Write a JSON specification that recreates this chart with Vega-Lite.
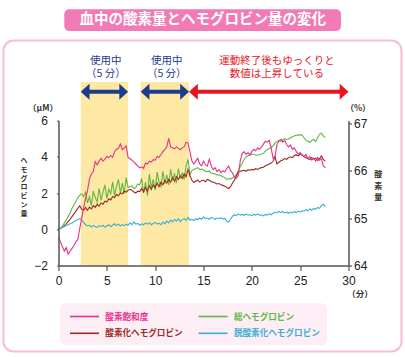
{
  "$schema": "https://vega.github.io/schema/vega-lite/v6.json",
  "width": 290,
  "height": 145,
  "autosize": {"type": "none"},
  "padding": {"left": 58.5, "top": 120.5, "right": 56.5, "bottom": 91.5},
  "background": "white",
  "config": {
    "font": "Noto Sans CJK JP",
    "view": {"stroke": null},
    "axis": {"grid": false}
  },
  "data": {"values": [{}]},
  "datasets": {
    "phases": [
      {"phase": "use", "start": 2.3, "end": 7.2},
      {"phase": "use", "start": 8.5, "end": 13.5},
      {"phase": "after", "start": 13.5, "end": 30}
    ],
    "hb": [
      {"t":0,"sat":64.6,"tot":0,"oxy":0,"deoxy":0},
      {"t":0.2,"sat":64.5,"tot":0.05,"oxy":0.05,"deoxy":0.05},
      {"t":0.4,"sat":64.4,"tot":0.15,"oxy":0.12,"deoxy":0.1},
      {"t":0.6,"sat":64.3,"tot":0.35,"oxy":0.2,"deoxy":0.15},
      {"t":0.8,"sat":64.38,"tot":0.5,"oxy":0.3,"deoxy":0.2},
      {"t":1.0,"sat":64.24,"tot":0.7,"oxy":0.42,"deoxy":0.25},
      {"t":1.2,"sat":64.3,"tot":0.9,"oxy":0.55,"deoxy":0.3},
      {"t":1.4,"sat":64.36,"tot":1.15,"oxy":0.7,"deoxy":0.35},
      {"t":1.6,"sat":64.42,"tot":1.35,"oxy":0.85,"deoxy":0.42},
      {"t":1.8,"sat":64.5,"tot":1.55,"oxy":1.0,"deoxy":0.48},
      {"t":2.0,"sat":64.55,"tot":1.75,"oxy":1.15,"deoxy":0.52},
      {"t":2.2,"sat":64.78,"tot":1.88,"oxy":1.3,"deoxy":0.6},
      {"t":2.4,"sat":65.0,"tot":1.95,"oxy":1.1,"deoxy":0.5},
      {"t":2.6,"sat":65.22,"tot":1.8,"oxy":1.05,"deoxy":0.38},
      {"t":2.8,"sat":65.42,"tot":2.05,"oxy":1.2,"deoxy":0.25},
      {"t":3.0,"sat":65.58,"tot":1.45,"oxy":1.05,"deoxy":0.18},
      {"t":3.2,"sat":65.82,"tot":1.8,"oxy":1.22,"deoxy":0.22},
      {"t":3.4,"sat":65.93,"tot":1.3,"oxy":1.12,"deoxy":0.12},
      {"t":3.6,"sat":65.98,"tot":2.1,"oxy":1.3,"deoxy":0.2},
      {"t":3.8,"sat":66.19,"tot":1.75,"oxy":1.2,"deoxy":0.15},
      {"t":4.0,"sat":66.12,"tot":1.5,"oxy":1.38,"deoxy":0.1},
      {"t":4.2,"sat":66.2,"tot":2.25,"oxy":1.28,"deoxy":0.2},
      {"t":4.4,"sat":66.26,"tot":1.6,"oxy":1.45,"deoxy":0.14},
      {"t":4.6,"sat":66.2,"tot":2.05,"oxy":1.38,"deoxy":0.22},
      {"t":4.8,"sat":66.24,"tot":2.45,"oxy":1.55,"deoxy":0.12},
      {"t":5.0,"sat":66.3,"tot":1.7,"oxy":1.5,"deoxy":0.18},
      {"t":5.2,"sat":66.27,"tot":2.2,"oxy":1.68,"deoxy":0.25},
      {"t":5.4,"sat":66.32,"tot":1.95,"oxy":1.62,"deoxy":0.15},
      {"t":5.6,"sat":66.28,"tot":2.6,"oxy":1.8,"deoxy":0.22},
      {"t":5.8,"sat":66.4,"tot":1.85,"oxy":1.75,"deoxy":0.3},
      {"t":6.0,"sat":66.45,"tot":2.35,"oxy":1.92,"deoxy":0.2},
      {"t":6.2,"sat":66.47,"tot":2.75,"oxy":1.85,"deoxy":0.28},
      {"t":6.4,"sat":66.56,"tot":2.0,"oxy":2.0,"deoxy":0.18},
      {"t":6.6,"sat":66.44,"tot":2.55,"oxy":1.95,"deoxy":0.26},
      {"t":6.8,"sat":66.48,"tot":1.95,"oxy":2.1,"deoxy":0.2},
      {"t":7.0,"sat":66.52,"tot":2.85,"oxy":2.05,"deoxy":0.28},
      {"t":7.2,"sat":66.28,"tot":2.3,"oxy":2.15,"deoxy":0.22},
      {"t":7.4,"sat":66.25,"tot":2.35,"oxy":2.2,"deoxy":0.35},
      {"t":7.6,"sat":66.22,"tot":2.4,"oxy":2.15,"deoxy":0.25},
      {"t":7.8,"sat":66.18,"tot":2.25,"oxy":2.05,"deoxy":0.4},
      {"t":8.0,"sat":66.14,"tot":2.3,"oxy":2.0,"deoxy":0.28},
      {"t":8.2,"sat":66.1,"tot":2.5,"oxy":2.1,"deoxy":0.32},
      {"t":8.4,"sat":66.06,"tot":2.45,"oxy":2.08,"deoxy":0.22},
      {"t":8.6,"sat":66.08,"tot":2.8,"oxy":2.25,"deoxy":0.3},
      {"t":8.8,"sat":66.05,"tot":2.0,"oxy":2.05,"deoxy":0.25},
      {"t":9.0,"sat":66.16,"tot":2.6,"oxy":2.3,"deoxy":0.35},
      {"t":9.2,"sat":66.14,"tot":1.85,"oxy":2.1,"deoxy":0.28},
      {"t":9.4,"sat":66.2,"tot":3.05,"oxy":2.4,"deoxy":0.36},
      {"t":9.6,"sat":66.18,"tot":2.3,"oxy":2.2,"deoxy":0.25},
      {"t":9.8,"sat":66.23,"tot":2.75,"oxy":2.45,"deoxy":0.32},
      {"t":10.0,"sat":66.22,"tot":2.15,"oxy":2.3,"deoxy":0.38},
      {"t":10.2,"sat":66.3,"tot":3.15,"oxy":2.55,"deoxy":0.28},
      {"t":10.4,"sat":66.28,"tot":2.6,"oxy":2.35,"deoxy":0.34},
      {"t":10.6,"sat":66.34,"tot":2.35,"oxy":2.6,"deoxy":0.25},
      {"t":10.8,"sat":66.4,"tot":3.2,"oxy":2.45,"deoxy":0.4},
      {"t":11.0,"sat":66.44,"tot":2.5,"oxy":2.7,"deoxy":0.3},
      {"t":11.2,"sat":66.5,"tot":3.0,"oxy":2.55,"deoxy":0.45},
      {"t":11.4,"sat":66.68,"tot":2.45,"oxy":2.75,"deoxy":0.35},
      {"t":11.6,"sat":66.5,"tot":3.3,"oxy":2.6,"deoxy":0.5},
      {"t":11.8,"sat":66.48,"tot":2.7,"oxy":2.85,"deoxy":0.4},
      {"t":12.0,"sat":66.46,"tot":3.05,"oxy":2.65,"deoxy":0.55},
      {"t":12.2,"sat":66.5,"tot":2.55,"oxy":2.9,"deoxy":0.45},
      {"t":12.4,"sat":66.47,"tot":3.35,"oxy":2.75,"deoxy":0.58},
      {"t":12.6,"sat":66.44,"tot":2.85,"oxy":2.95,"deoxy":0.42},
      {"t":12.8,"sat":66.48,"tot":3.1,"oxy":2.8,"deoxy":0.52},
      {"t":13.0,"sat":66.5,"tot":2.75,"oxy":3.05,"deoxy":0.6},
      {"t":13.2,"sat":66.6,"tot":3.5,"oxy":2.9,"deoxy":0.48},
      {"t":13.4,"sat":66.58,"tot":3.85,"oxy":3.3,"deoxy":0.65},
      {"t":13.6,"sat":66.4,"tot":3.0,"oxy":2.95,"deoxy":0.5},
      {"t":13.8,"sat":66.2,"tot":3.25,"oxy":2.7,"deoxy":0.55},
      {"t":14.0,"sat":66.14,"tot":3.3,"oxy":2.58,"deoxy":0.48},
      {"t":14.2,"sat":66.2,"tot":3.35,"oxy":2.65,"deoxy":0.58},
      {"t":14.4,"sat":66.26,"tot":3.4,"oxy":2.72,"deoxy":0.52},
      {"t":14.6,"sat":66.14,"tot":3.3,"oxy":2.6,"deoxy":0.62},
      {"t":14.8,"sat":66.1,"tot":3.32,"oxy":2.68,"deoxy":0.55},
      {"t":15.0,"sat":66.2,"tot":3.28,"oxy":2.7,"deoxy":0.68},
      {"t":15.2,"sat":66.12,"tot":3.2,"oxy":2.62,"deoxy":0.58},
      {"t":15.4,"sat":66.1,"tot":3.18,"oxy":2.75,"deoxy":0.62},
      {"t":15.6,"sat":66.24,"tot":3.22,"oxy":2.7,"deoxy":0.55},
      {"t":15.8,"sat":66.1,"tot":3.1,"oxy":2.62,"deoxy":0.65},
      {"t":16.0,"sat":66.02,"tot":3.08,"oxy":2.6,"deoxy":0.6},
      {"t":16.2,"sat":66.06,"tot":3.05,"oxy":2.55,"deoxy":0.55},
      {"t":16.4,"sat":65.98,"tot":3.0,"oxy":2.5,"deoxy":0.62},
      {"t":16.6,"sat":66.02,"tot":3.0,"oxy":2.52,"deoxy":0.58},
      {"t":16.8,"sat":65.96,"tot":2.95,"oxy":2.45,"deoxy":0.64},
      {"t":17.0,"sat":66.0,"tot":2.9,"oxy":2.42,"deoxy":0.56},
      {"t":17.2,"sat":65.97,"tot":2.85,"oxy":2.38,"deoxy":0.6},
      {"t":17.4,"sat":66.04,"tot":2.75,"oxy":2.3,"deoxy":0.45},
      {"t":17.6,"sat":66.1,"tot":2.8,"oxy":2.25,"deoxy":0.4},
      {"t":17.8,"sat":66.0,"tot":2.78,"oxy":2.35,"deoxy":0.55},
      {"t":18.0,"sat":65.95,"tot":2.82,"oxy":2.55,"deoxy":0.72},
      {"t":18.2,"sat":65.86,"tot":2.9,"oxy":2.7,"deoxy":0.8},
      {"t":18.4,"sat":65.84,"tot":3.0,"oxy":2.95,"deoxy":0.75},
      {"t":18.6,"sat":65.9,"tot":3.25,"oxy":3.15,"deoxy":0.85},
      {"t":18.8,"sat":66.2,"tot":3.45,"oxy":3.2,"deoxy":0.78},
      {"t":19.0,"sat":66.36,"tot":3.64,"oxy":3.22,"deoxy":0.82},
      {"t":19.2,"sat":66.4,"tot":3.85,"oxy":3.25,"deoxy":0.76},
      {"t":19.4,"sat":66.34,"tot":4.0,"oxy":3.2,"deoxy":0.85},
      {"t":19.6,"sat":66.38,"tot":4.05,"oxy":3.28,"deoxy":0.78},
      {"t":19.8,"sat":66.33,"tot":4.1,"oxy":3.26,"deoxy":0.8},
      {"t":20.0,"sat":66.4,"tot":4.15,"oxy":3.3,"deoxy":0.75},
      {"t":20.2,"sat":66.45,"tot":4.12,"oxy":3.28,"deoxy":0.82},
      {"t":20.4,"sat":66.42,"tot":4.1,"oxy":3.34,"deoxy":0.78},
      {"t":20.6,"sat":66.48,"tot":4.08,"oxy":3.3,"deoxy":0.84},
      {"t":20.8,"sat":66.45,"tot":4.12,"oxy":3.36,"deoxy":0.76},
      {"t":21.0,"sat":66.5,"tot":4.15,"oxy":3.4,"deoxy":0.8},
      {"t":21.2,"sat":66.56,"tot":4.2,"oxy":3.42,"deoxy":0.74},
      {"t":21.4,"sat":66.62,"tot":4.3,"oxy":3.5,"deoxy":0.82},
      {"t":21.6,"sat":66.6,"tot":4.4,"oxy":3.55,"deoxy":0.78},
      {"t":21.8,"sat":66.64,"tot":4.45,"oxy":3.6,"deoxy":0.86},
      {"t":22.0,"sat":66.48,"tot":4.5,"oxy":3.65,"deoxy":0.8},
      {"t":22.2,"sat":66.26,"tot":4.6,"oxy":3.75,"deoxy":0.88},
      {"t":22.4,"sat":66.3,"tot":4.75,"oxy":4.0,"deoxy":0.95},
      {"t":22.6,"sat":66.55,"tot":4.85,"oxy":3.6,"deoxy":0.9},
      {"t":22.8,"sat":66.62,"tot":4.9,"oxy":3.7,"deoxy":1.0},
      {"t":23.0,"sat":66.66,"tot":4.85,"oxy":3.78,"deoxy":0.92},
      {"t":23.2,"sat":66.6,"tot":4.95,"oxy":3.82,"deoxy":0.98},
      {"t":23.4,"sat":66.64,"tot":5.0,"oxy":3.9,"deoxy":0.9},
      {"t":23.6,"sat":66.55,"tot":4.95,"oxy":3.86,"deoxy":0.94},
      {"t":23.8,"sat":66.5,"tot":4.98,"oxy":3.95,"deoxy":0.88},
      {"t":24.0,"sat":66.54,"tot":5.05,"oxy":4.0,"deoxy":0.95},
      {"t":24.2,"sat":66.45,"tot":5.1,"oxy":3.95,"deoxy":0.9},
      {"t":24.4,"sat":66.48,"tot":5.15,"oxy":4.08,"deoxy":0.98},
      {"t":24.6,"sat":66.4,"tot":5.2,"oxy":4.1,"deoxy":0.92},
      {"t":24.8,"sat":66.35,"tot":5.18,"oxy":4.05,"deoxy":1.0},
      {"t":25.0,"sat":66.38,"tot":5.22,"oxy":4.15,"deoxy":0.95},
      {"t":25.2,"sat":66.33,"tot":5.2,"oxy":4.1,"deoxy":1.02},
      {"t":25.4,"sat":66.3,"tot":5.05,"oxy":4.0,"deoxy":1.0},
      {"t":25.6,"sat":66.34,"tot":4.9,"oxy":3.95,"deoxy":1.08},
      {"t":25.8,"sat":66.25,"tot":4.85,"oxy":3.9,"deoxy":1.02},
      {"t":26.0,"sat":66.3,"tot":4.8,"oxy":3.85,"deoxy":1.12},
      {"t":26.2,"sat":66.22,"tot":4.9,"oxy":3.95,"deoxy":1.05},
      {"t":26.4,"sat":66.26,"tot":4.95,"oxy":3.88,"deoxy":1.15},
      {"t":26.6,"sat":66.2,"tot":4.85,"oxy":3.92,"deoxy":1.1},
      {"t":26.8,"sat":66.28,"tot":5.05,"oxy":3.8,"deoxy":1.2},
      {"t":27.0,"sat":66.22,"tot":5.25,"oxy":3.9,"deoxy":1.15},
      {"t":27.2,"sat":66.25,"tot":5.3,"oxy":4.05,"deoxy":1.3},
      {"t":27.4,"sat":66.1,"tot":5.15,"oxy":3.85,"deoxy":1.38},
      {"t":27.6,"sat":66.06,"tot":5.05,"oxy":3.75,"deoxy":1.25}
    ]
  },
  "layer": [
    {
      "layer": [
        {
          "mark": {"type": "rect", "fill": "white", "stroke": "#f8bcda", "strokeWidth": 2, "cornerRadius": 10},
          "encoding": {
            "x": {"datum": -5.69, "type": "quantitative", "axis": null},
            "x2": {"datum": 35.48},
            "y": {"datum": 10.414, "type": "quantitative", "axis": null, "scale": {"domain": [-2, 6], "nice": false, "zero": false}},
            "y2": {"datum": -6.745}
          }
        },
        {
          "mark": {"type": "rect", "fill": "#f27ab6", "cornerRadius": 5},
          "encoding": {
            "x": {"datum": 0.6, "type": "quantitative", "axis": null},
            "x2": {"datum": 29.22},
            "y": {"datum": 12.135, "type": "quantitative", "axis": null},
            "y2": {"datum": 10.938}
          }
        },
        {
          "mark": {"type": "text", "text": "血中の酸素量とヘモグロビン量の変化", "fill": "white", "fontSize": 14.5, "fontWeight": "bold", "align": "center", "baseline": "middle"},
          "encoding": {
            "x": {"datum": 14.91, "type": "quantitative", "axis": null},
            "y": {"datum": 11.53, "type": "quantitative", "axis": null}
          }
        },
        {
          "data": {"name": "phases"},
          "transform": [{"filter": "datum.phase === 'use'"}],
          "mark": {"type": "rect", "fill": "#fde8a4"},
          "encoding": {
            "x": {"field": "start", "type": "quantitative", "scale": {"domain": [0, 30], "nice": false, "zero": false},
              "axis": {"orient": "top", "values": [5, 10, 15, 20, 25], "labels": false, "title": null, "domainColor": "#555", "domainWidth": 1.5, "tickColor": "#555", "tickWidth": 1.2, "tickSize": 7, "zindex": 1}},
            "x2": {"field": "end"},
            "y": {"datum": -2, "type": "quantitative", "axis": null, "scale": {"domain": [-2, 6], "nice": false, "zero": false}},
            "y2": {"datum": 8.124}
          }
        },
        {
          "data": {"name": "phases"},
          "mark": {"type": "rule", "strokeWidth": 4, "xOffset": 4, "x2Offset": -4},
          "encoding": {
            "x": {"field": "start", "type": "quantitative", "axis": null},
            "x2": {"field": "end"},
            "y": {"datum": 7.589, "type": "quantitative", "axis": null},
            "color": {"condition": {"test": "datum.phase === 'use'", "value": "#1f3c8c"}, "value": "#e5161e"}
          }
        },
        {
          "data": {"name": "phases"},
          "mark": {"type": "point", "shape": "M0,0L1.1,-1L1.1,1Z", "size": 256, "filled": true, "opacity": 1, "strokeWidth": 0},
          "encoding": {
            "x": {"field": "start", "type": "quantitative", "axis": null},
            "y": {"datum": 7.589, "type": "quantitative", "axis": null},
            "color": {"condition": {"test": "datum.phase === 'use'", "value": "#1f3c8c"}, "value": "#e5161e"}
          }
        },
        {
          "data": {"name": "phases"},
          "mark": {"type": "point", "shape": "M0,0L-1.1,-1L-1.1,1Z", "size": 256, "filled": true, "opacity": 1, "strokeWidth": 0},
          "encoding": {
            "x": {"field": "end", "type": "quantitative", "axis": null},
            "y": {"datum": 7.589, "type": "quantitative", "axis": null},
            "color": {"condition": {"test": "datum.phase === 'use'", "value": "#1f3c8c"}, "value": "#e5161e"}
          }
        },
        {
          "mark": {"type": "text", "text": "使用中\n（5 分）", "lineBreak": "\n", "lineHeight": 13, "fill": "#1f3c8c", "fontSize": 10.5, "align": "center", "baseline": "middle"},
          "encoding": {
            "x": {"datum": 4.9, "type": "quantitative", "axis": null},
            "y": {"datum": 9.3, "type": "quantitative", "axis": null}
          }
        },
        {
          "mark": {"type": "text", "text": "使用中\n（5 分）", "lineBreak": "\n", "lineHeight": 13, "fill": "#1f3c8c", "fontSize": 10.5, "align": "center", "baseline": "middle"},
          "encoding": {
            "x": {"datum": 11.2, "type": "quantitative", "axis": null},
            "y": {"datum": 9.3, "type": "quantitative", "axis": null}
          }
        },
        {
          "mark": {"type": "text", "text": "運動終了後もゆっくりと\n数値は上昇している", "lineBreak": "\n", "lineHeight": 13, "fill": "#e5161e", "fontSize": 10.5, "align": "center", "baseline": "middle"},
          "encoding": {
            "x": {"datum": 22.6, "type": "quantitative", "axis": null},
            "y": {"datum": 9.3, "type": "quantitative", "axis": null}
          }
        },
        {
          "mark": {"type": "text", "text": "（μM）", "fill": "#333", "fontSize": 8.5, "fontWeight": "bold", "align": "center", "baseline": "middle"},
          "encoding": {
            "x": {"datum": -1.6, "type": "quantitative", "axis": null},
            "y": {"datum": 6.673, "type": "quantitative", "axis": null}
          }
        },
        {
          "mark": {"type": "text", "text": "（%）", "fill": "#333", "fontSize": 8.5, "fontWeight": "bold", "align": "center", "baseline": "middle"},
          "encoding": {
            "x": {"datum": 30.98, "type": "quantitative", "axis": null},
            "y": {"datum": 6.673, "type": "quantitative", "axis": null}
          }
        },
        {
          "mark": {"type": "text", "text": "（分）", "fill": "#333", "fontSize": 8.5, "fontWeight": "bold", "align": "center", "baseline": "middle"},
          "encoding": {
            "x": {"datum": 31.19, "type": "quantitative", "axis": null},
            "y": {"datum": -3.589, "type": "quantitative", "axis": null}
          }
        },
        {
          "mark": {"type": "text", "text": "ヘ\nモ\nグ\nロ\nビ\nン\n量", "lineBreak": "\n", "lineHeight": 8.8, "fill": "#333", "fontSize": 7, "fontWeight": "bold", "align": "center", "baseline": "middle"},
          "encoding": {
            "x": {"datum": -3.57, "type": "quantitative", "axis": null},
            "y": {"datum": 3.766, "type": "quantitative", "axis": null}
          }
        },
        {
          "mark": {"type": "text", "text": "酸\n素\n量", "lineBreak": "\n", "lineHeight": 11.7, "fill": "#333", "fontSize": 8, "fontWeight": "bold", "align": "center", "baseline": "middle"},
          "encoding": {
            "x": {"datum": 33.08, "type": "quantitative", "axis": null},
            "y": {"datum": 2.993, "type": "quantitative", "axis": null}
          }
        }
      ]
    },
    {
      "data": {"name": "hb"},
      "transform": [{"fold": ["tot", "oxy", "deoxy"], "as": ["key", "val"]}],
      "mark": {"type": "line", "strokeWidth": 1.1},
      "encoding": {
        "x": {"field": "t", "type": "quantitative", "scale": {"domain": [0, 30], "nice": false, "zero": false},
          "axis": {"orient": "bottom", "values": [0, 5, 10, 15, 20, 25, 30], "title": null, "labelFlush": false, "labelFont": "Liberation Sans", "labelFontSize": 12, "labelColor": "#222", "labelPadding": 5, "domainColor": "#555", "domainWidth": 1.5, "tickColor": "#555", "tickWidth": 1.2, "tickSize": 5, "zindex": 1}},
        "y": {"field": "val", "type": "quantitative", "scale": {"domain": [-2, 6], "nice": false, "zero": false},
          "axis": {"orient": "left", "values": [-2, 0, 2, 4, 6], "title": null, "labels": true, "labelOverlap": false, "labelBound": false, "labelFlush": false, "labelFont": "Liberation Sans", "labelFontSize": 12, "labelColor": "#222", "labelPadding": 9, "labelAlign": "right", "labelBaseline": "middle", "domainColor": "#555", "domainWidth": 1.5, "tickColor": "#555", "tickWidth": 1.2, "tickSize": 2, "zindex": 1}},
        "color": {"field": "key", "type": "nominal",
          "scale": {"domain": ["sat", "tot", "oxy", "deoxy"], "range": ["#e8318b", "#5db845", "#9a2a24", "#3aafd4"]},
          "legend": {"orient": "none", "legendX": 1.5, "legendY": 182.8, "columns": 2, "direction": "horizontal", "title": null,
            "fillColor": "#fdedf5", "cornerRadius": 6, "padding": 7,
            "symbolType": "M-0.6,0H5.2", "symbolSize": 100, "symbolStrokeWidth": 1.6, "symbolFillColor": "transparent",
            "labelOffset": 26.3, "columnPadding": 11.6, "rowPadding": 6,
            "labelFont": "Noto Sans CJK JP", "labelFontSize": 8.6, "labelFontWeight": "bold",
            "labelExpr": "datum.value === 'sat' ? '酸素飽和度' : datum.value === 'tot' ? '総ヘモグロビン' : datum.value === 'oxy' ? '酸素化ヘモグロビン' : '脱酸素化ヘモグロビン'",
            "encode": {"labels": {"update": {"fill": {"scale": "color", "field": "value"}}}}}}
      }
    },
    {
      "data": {"name": "hb"},
      "transform": [{"fold": ["sat"], "as": ["key", "val"]}],
      "mark": {"type": "line", "strokeWidth": 1.1},
      "encoding": {
        "x": {"field": "t", "type": "quantitative", "axis": null},
        "y": {"field": "val", "type": "quantitative", "scale": {"domain": [64, 67.057], "nice": false, "zero": false},
          "axis": {"orient": "right", "values": [64, 65, 66, 67], "title": null, "labelFlush": false, "labelFont": "Liberation Sans", "labelFontSize": 12, "labelColor": "#222", "labelPadding": 2, "domainColor": "#555", "domainWidth": 1.5, "tickColor": "#555", "tickWidth": 1.2, "tickSize": 3, "zindex": 1}},
        "color": {"field": "key", "type": "nominal", "scale": {"domain": ["sat", "tot", "oxy", "deoxy"], "range": ["#e8318b", "#5db845", "#9a2a24", "#3aafd4"]}, "legend": null}
      }
    }
  ],
  "resolve": {"scale": {"y": "independent"}}
}
